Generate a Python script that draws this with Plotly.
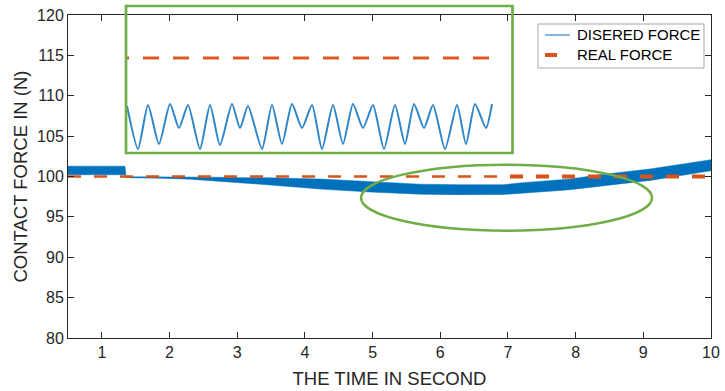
import plotly.graph_objects as go

# ---------------- data ----------------
# Main chart: desired force drawn as a thick oscillating band (upper / lower envelope)
band_t = [0.5, 1.342, 1.357, 1.859, 2.303, 2.687, 3.086, 3.440, 4.223, 4.962,
          5.701, 6.292, 6.927, 7.178, 7.622, 7.917, 8.360, 9.099, 10.0]
band_upper = [101.28, 101.28, 99.98, 99.98, 99.98, 99.91, 99.85, 99.85, 99.69, 99.36,
              99.05, 98.98, 98.98, 99.20, 99.46, 99.69, 100.22, 100.93, 102.08]
band_lower = [100.22, 100.22, 99.85, 99.79, 99.67, 99.39, 99.20, 98.98, 98.45, 98.08,
              97.81, 97.75, 97.77, 97.87, 98.18, 98.37, 98.77, 99.52, 100.72]

# Real (reference) force
real_t = [0.5, 7.03, 10.0]
real_f = [100.0, 100.0, 100.0]

# Zoomed inset
inset_t = [6.001, 6.012, 6.022, 6.033, 6.044, 6.053, 6.062, 6.074, 6.084, 6.094,
           6.106, 6.114, 6.122, 6.136, 6.146, 6.156, 6.166, 6.176, 6.186, 6.196,
           6.207, 6.217, 6.227, 6.237, 6.247, 6.258, 6.269, 6.279, 6.288, 6.298,
           6.307, 6.319, 6.331, 6.340, 6.349, 6.360, 6.366]
inset_desired = [99.52, 99.09, 99.53, 99.14, 99.54, 99.30, 99.53, 99.09, 99.53, 99.13,
                 99.54, 99.30, 99.52, 99.09, 99.53, 99.14, 99.54, 99.30, 99.53, 99.09,
                 99.53, 99.14, 99.54, 99.30, 99.53, 99.09, 99.53, 99.14, 99.54, 99.30,
                 99.53, 99.09, 99.53, 99.14, 99.54, 99.30, 99.54]
inset_real_t = [5.987, 6.364]
inset_real_f = [100.0, 100.0]

x_ticks = [1, 2, 3, 4, 5, 6, 7, 8, 9, 10]
y_ticks = [80, 85, 90, 95, 100, 105, 110, 115, 120]
legend_names = ["DISERED FORCE", "REAL FORCE"]

BLUE = "#0072BD"
ORANGE = "#D95319"
GREEN = "#70AD47"
TXT = "#262626"
FONT = "Arial, Liberation Sans, Helvetica, sans-serif"

fig = go.Figure()

# desired force band (fill between envelopes)
fig.add_trace(go.Scatter(
    x=band_t + band_t[::-1], y=band_upper + band_lower[::-1],
    mode="lines", fill="toself", fillcolor=BLUE, name=legend_names[0],
    line=dict(color=BLUE, width=0.5), showlegend=False, hoverinfo="skip"))
# real force (two segments: renderer draws the later part heavier)
fig.add_trace(go.Scatter(x=real_t[0:2], y=real_f[0:2], mode="lines", showlegend=False,
                         name=legend_names[1],
                         line=dict(color=ORANGE, width=2.5, dash="13px,13px")))
fig.add_trace(go.Scatter(x=real_t[1:3], y=real_f[1:3], mode="lines", showlegend=False,
                         name=legend_names[1],
                         line=dict(color=ORANGE, width=4, dash="13px,13px")))

# inset traces
fig.add_trace(go.Scatter(x=inset_real_t, y=inset_real_f, mode="lines", xaxis="x2", yaxis="y2",
                         showlegend=False, line=dict(color="#E05A20", width=3, dash="16px,14px")))
fig.add_trace(go.Scatter(x=inset_t, y=inset_desired, mode="lines", xaxis="x2", yaxis="y2",
                         showlegend=False, line=dict(color="#2F86C8", width=2, shape="spline",
                                                     smoothing=0.6)))

axis_common = dict(showline=True, linecolor=TXT, linewidth=1, mirror="ticks",
                   ticks="inside", ticklen=6, tickcolor=TXT, showgrid=False, zeroline=False,
                   automargin=False,
                   tickfont=dict(family=FONT, size=16, color=TXT))

# legend box drawn in paper coordinates (MATLAB-style compact legend)
LX0, LX1, LY0, LY1 = 0.7309, 0.9891, 0.8359, 0.9721
ROW1, ROW2 = 0.9381, 0.8762
SX0, SX1, SX1b, TX = 0.7418, 0.7807, 0.7605, 0.7885

fig.update_layout(
    width=725, height=391,
    margin=dict(l=68, r=14, t=15, b=53, autoexpand=False),
    paper_bgcolor="white", plot_bgcolor="rgba(0,0,0,0)",
    xaxis=dict(range=[0.5, 10], tickvals=x_ticks,
               title=dict(text="THE TIME IN SECOND", font=dict(family=FONT, size=18.5, color=TXT),
                          standoff=11),
               **axis_common),
    yaxis=dict(range=[80, 120], tickvals=y_ticks,
               title=dict(text="CONTACT FORCE IN (N)", font=dict(family=FONT, size=18.5, color=TXT),
                          standoff=4),
               **axis_common),
    xaxis2=dict(domain=[0.0902, 0.6913], range=[6.0, 6.3865], visible=False, anchor="y2"),
    yaxis2=dict(domain=[0.5728, 1.0], range=[99.05, 100.43], visible=False, anchor="x2"),
    showlegend=False,
    shapes=[
        dict(type="rect", xref="paper", yref="paper", x0=0.0902, x1=0.6913, y0=0.5728, y1=1.0279,
             line=dict(color=GREEN, width=2.7), fillcolor="rgba(0,0,0,0)", layer="above"),
        dict(type="circle", xref="x", yref="y", x0=4.829, x1=9.129, y0=93.29, y1=101.46,
             line=dict(color=GREEN, width=2.5), layer="above"),
        dict(type="rect", xref="paper", yref="paper", x0=LX0, x1=LX1, y0=LY0, y1=LY1,
             line=dict(color="#A6A6A6", width=1), fillcolor="white", layer="above"),
        dict(type="line", xref="paper", yref="paper", x0=SX0, x1=SX1, y0=ROW1, y1=ROW1,
             line=dict(color=BLUE, width=1), layer="above"),
        dict(type="line", xref="paper", yref="paper", x0=SX0, x1=SX1b, y0=ROW2, y1=ROW2,
             line=dict(color=ORANGE, width=4), layer="above"),
    ],
    annotations=[
        dict(text=legend_names[0], xref="paper", yref="paper", x=TX, y=ROW1,
             xanchor="left", yanchor="middle", showarrow=False,
             font=dict(family=FONT, size=15, color="black")),
        dict(text=legend_names[1], xref="paper", yref="paper", x=TX, y=ROW2,
             xanchor="left", yanchor="middle", showarrow=False,
             font=dict(family=FONT, size=15, color="black")),
    ],
)

fig.write_html("out.html")
